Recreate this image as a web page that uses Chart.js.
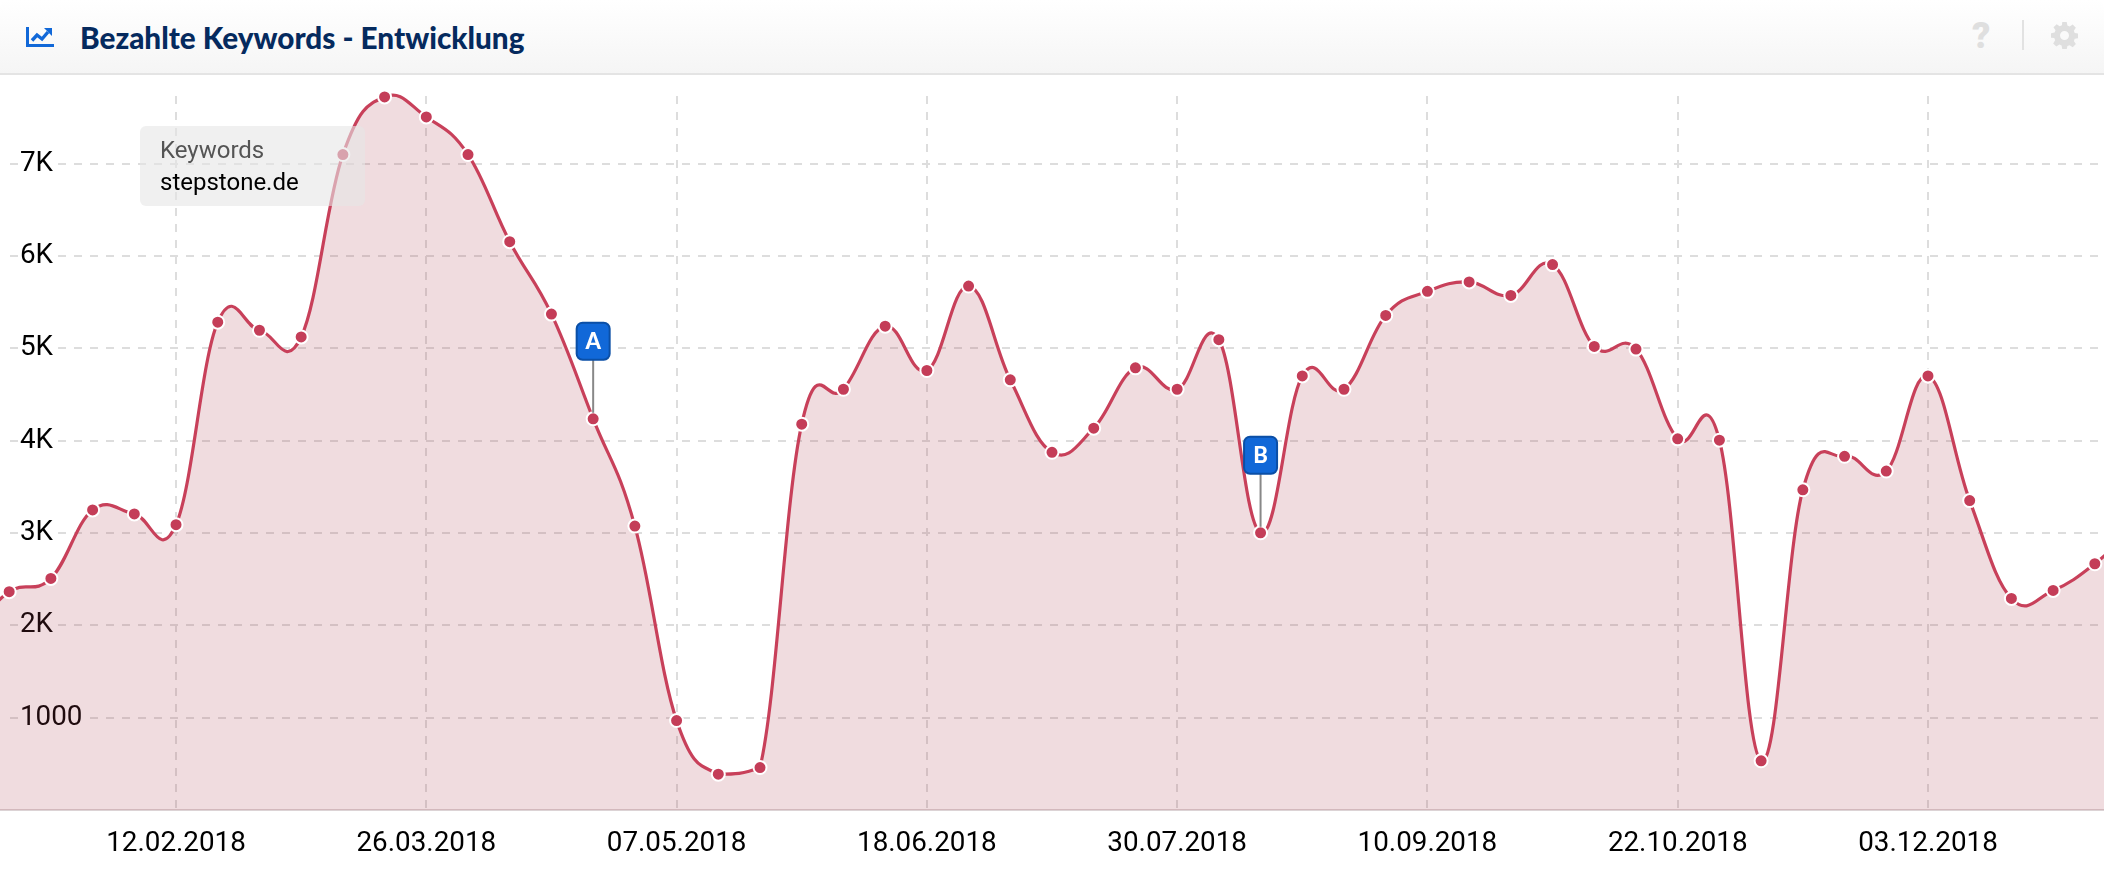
<!DOCTYPE html>
<html><head><meta charset="utf-8">
<script src="https://cdn.jsdelivr.net/npm/chart.js@4"></script>
<style>
html,body{margin:0;padding:0;background:#fff;width:2104px;height:876px;overflow:hidden;font-family:Roboto,sans-serif}
#head{position:absolute;left:0;top:0;width:2104px;height:73px;background:linear-gradient(#ffffff,#f5f5f5);border-bottom:2px solid #e4e4e4;border-radius:8px 8px 0 0}
#title{position:absolute;left:80px;top:19px;font:900 29.7px/38px Lato,sans-serif;color:#052a5e;white-space:nowrap}
#wrap{position:absolute;left:0;top:76px;width:2104px;height:800px}
#tip{position:absolute;left:140px;top:126px;width:225px;height:80px;background:rgba(230,230,230,.6);border-radius:6px}
#tip div{position:absolute;left:20px;font:24px/30px Roboto,sans-serif;white-space:nowrap}
#q{position:absolute;left:1972px;top:15px;font:900 36px/42px Roboto,sans-serif;color:#dfdfdf}
#sep{position:absolute;left:2022px;top:20px;width:2px;height:30px;background:#e2e2e2}
</style></head>
<body>
<div id="head">
<svg style="position:absolute;left:26px;top:27px" width="28" height="21" viewBox="0 0 28 21">
<path d="M1.5 0v18.5H28" fill="none" stroke="#1168d8" stroke-width="3"/>
<path d="M6 13.5l5-5.5 5 4 6-7" fill="none" stroke="#1168d8" stroke-width="3.4"/>
<path d="M18 1h8v8z" fill="#1168d8"/>
</svg>
<div id="title">Bezahlte Keywords - Entwicklung</div>
<div id="q">?</div><div id="sep"></div>
<svg style="position:absolute;left:2051px;top:22px" width="27" height="27" viewBox="0 0 24 24">
<path fill="#dfdfdf" fill-rule="evenodd" d="M10 0h4l.6 3.2 2 .8L19.3 2.2l2.8 2.8-1.8 2.7.8 2 3.2.6v4l-3.2.6-.8 2 1.8 2.7-2.8 2.8-2.7-1.8-2 .8L14 24h-4l-.6-3.2-2-.8-2.7 1.8-2.8-2.8 1.8-2.7-.8-2L0 14v-4l3.2-.6.8-2L2.2 4.7 5 1.9l2.7 1.8 2-.8zM12 8a4 4 0 1 0 0 8 4 4 0 0 0 0-8z"/>
</svg>
</div>
<div id="wrap"><canvas id="c" width="2104" height="800"></canvas></div>
<div id="tip"><div style="top:9px;color:#555">Keywords</div><div style="top:41px;color:#000">stepstone.de</div></div>
<script>
const dates=["08.01.2018","15.01.2018","22.01.2018","29.01.2018","05.02.2018","12.02.2018","19.02.2018","26.02.2018","05.03.2018","12.03.2018","19.03.2018","26.03.2018","02.04.2018","09.04.2018","16.04.2018","23.04.2018","30.04.2018","07.05.2018","14.05.2018","21.05.2018","28.05.2018","04.06.2018","11.06.2018","18.06.2018","25.06.2018","02.07.2018","09.07.2018","16.07.2018","23.07.2018","30.07.2018","06.08.2018","13.08.2018","20.08.2018","27.08.2018","03.09.2018","10.09.2018","17.09.2018","24.09.2018","01.10.2018","08.10.2018","15.10.2018","22.10.2018","29.10.2018","05.11.2018","12.11.2018","19.11.2018","26.11.2018","03.12.2018","10.12.2018","17.12.2018","24.12.2018","31.12.2018"];
const keywords=[1893,2364,2508,3250,3206,3090,5283,5196,5123,7099,7723,7506,7099,6155,5371,4237,3075,969,388,460,4179,4557,5240,4760,5675,4659,3874,4135,4789,4557,5094,3002,4701,4557,5356,5617,5719,5573,5907,5021,4992,4020,4005,533,3468,3831,3671,4701,3351,2291,2378,2667,3089];
const tickIndices=[5,11,17,23,29,35,41,47];
const flags=[{letter:"A",index:15},{letter:"B",index:31}];
const yTicks=[1000,2000,3000,4000,5000,6000,7000];

const GRID='#dddddd';
const prep={id:'prep',
 afterDatasetsUpdate(ch){
  // spline smoothing derived from the points the library has placed
  const meta=ch.getDatasetMeta(0),p=meta.data,k=1.5,d=2.5;
  const floor=ch.scales.y.getPixelForValue(Math.min(...keywords));
  meta.dataset.updateControlPoints(ch.chartArea);
  for(let i=0;i<p.length;i++){
    const c=p[i],a=p[i-1]||c,b=p[i+1]||c;
    let lx=(k*c.x+a.x)/d,ly=(k*c.y+a.y)/d,rx=(k*c.x+b.x)/d,ry=(k*c.y+b.y)/d;
    if(rx!==lx){const cor=((ry-ly)*(rx-c.x))/(rx-lx)+c.y-ry;ly+=cor;ry+=cor;}
    c.cp1x=lx;c.cp1y=Math.min(ly,floor);c.cp2x=rx;c.cp2y=Math.min(ry,floor);
  }
 },
 beforeDatasetsDraw(ch){
  const a=ch.chartArea,c=ch.ctx;c.save();c.fillStyle='#fff';c.fillRect(0,a.top,10,a.bottom-a.top-1);c.restore();
}};
const flagPlugin={id:'flagPlugin',afterDatasetsDraw(ch){
  const c=ch.ctx,xs=ch.scales.x,ys=ch.scales.y;
  c.save();
  flags.forEach(f=>{
    const px=xs.getPixelForValue(f.index),py=ys.getPixelForValue(keywords[f.index]);
    const w=33,h=37,bottom=py-59,l=px-w/2,t=bottom-h;
    c.strokeStyle='#888';c.lineWidth=2;c.beginPath();c.moveTo(px,bottom);c.lineTo(px,py-6);c.stroke();
    c.fillStyle='#1168d8';c.strokeStyle='#0b4fa6';c.lineWidth=2;
    c.beginPath();c.roundRect(l,t,w,h,6);c.fill();c.stroke();
    c.fillStyle='#fff';c.font='900 22px Lato,sans-serif';c.textAlign='center';c.textBaseline='middle';
    c.fillText(f.letter,px,t+h/2+1);
  });
  c.restore();
}};
new Chart(document.getElementById('c'),{
  type:'line',
  data:{datasets:[{
    data:keywords.map((v,i)=>({x:i,y:v})),
    borderColor:'#c8405a',borderWidth:3.2,tension:0.4,capBezierPoints:false,clip:false,
    fill:'origin',backgroundColor:'rgba(172,60,80,.18)',
    pointRadius:6.5,pointBackgroundColor:'#c43d58',pointBorderColor:'#fff',pointBorderWidth:2
  }]},
  plugins:[prep,flagPlugin],
  options:{
    responsive:false,animation:false,events:[],
    layout:{autoPadding:false,padding:{top:20,left:0,right:0,bottom:0}},
    plugins:{legend:{display:false},tooltip:{enabled:false},title:{display:false}},
    scales:{
      x:{type:'linear',min:0.78,max:51.22,
        afterBuildTicks(s){s.ticks=tickIndices.map(v=>({value:v}));},
        afterFit(s){s.height=66;s.paddingLeft=0;s.paddingRight=0;},
        grid:{color:GRID,lineWidth:2,drawTicks:false,tickLength:0},
        border:{display:true,color:'#dcd3d5',width:2,dash:[8,8]},
        ticks:{autoSkip:false,maxRotation:0,padding:17,color:'#000',font:{family:'Roboto',size:27.8},
          callback:v=>dates[v]}
      },
      y:{min:0,max:7733,
        afterBuildTicks(s){s.ticks=yTicks.map(v=>({value:v}));},
        afterFit(s){s.width=0;s.paddingTop=0;s.paddingBottom=0;},
        grid:{color:GRID,lineWidth:2,drawTicks:false,tickLength:0},
        border:{display:false,dash:[8,8],dashOffset:6},
        ticks:{mirror:true,padding:20,labelOffset:0,color:'#000',font:{family:'Roboto',size:27.8},
          showLabelBackdrop:true,backdropColor:'#fff',backdropPadding:{left:2,right:5,top:0,bottom:0},
          callback:v=>v>=2000?(v/1000)+'K':String(v)}
      }
    }
  }
});
</script>
</body></html>
